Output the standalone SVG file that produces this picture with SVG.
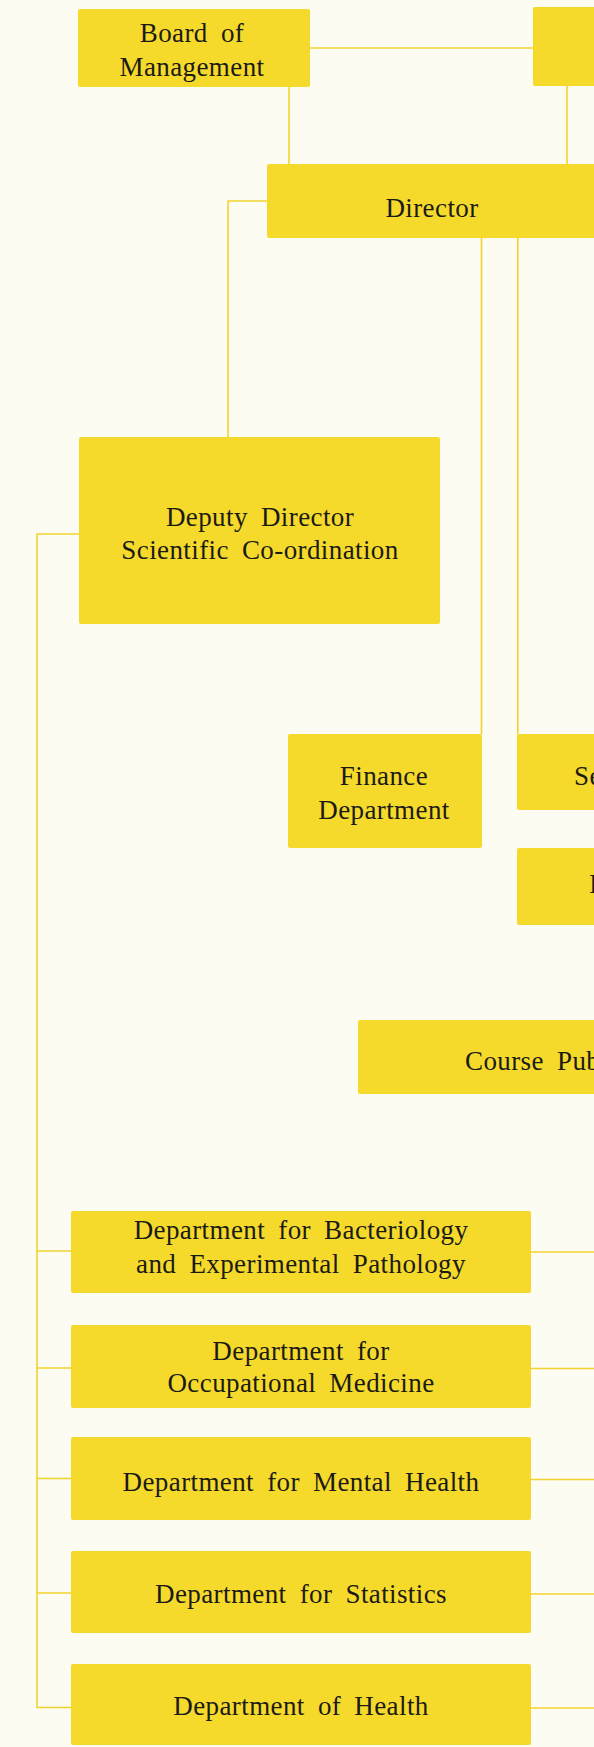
<svg xmlns="http://www.w3.org/2000/svg" width="594" height="1747" viewBox="0 0 594 1747">
<style>
.box{fill:#F5DA2C;}
.lbl{font-family:"Liberation Serif","Times New Roman",serif;font-size:27px;fill:#1c1a14;text-anchor:middle;word-spacing:6px;letter-spacing:0.4px;}
.lbs{font-family:"Liberation Serif","Times New Roman",serif;font-size:27px;fill:#1c1a14;text-anchor:start;word-spacing:6px;letter-spacing:0.4px;}
.conn{stroke:#F0D32E;stroke-width:1.6;fill:none;}
</style>
<rect width="594" height="1747" fill="#FDFCF2"/>
<g id="connectors" class="conn">
<path d="M310 48H533"/>
<path d="M289 87V164"/>
<path d="M567 86V164"/>
<path d="M267 201H228V437"/>
<path d="M481.5 238V734"/>
<path d="M517.8 238V734"/>
<path d="M79 534H37V1707.5H71"/>
<path d="M37 1251H71"/>
<path d="M37 1368H71"/>
<path d="M37 1478.5H71"/>
<path d="M37 1593H71"/>
<path d="M531 1252H594"/>
<path d="M531 1368.5H594"/>
<path d="M531 1479.5H594"/>
<path d="M531 1594H594"/>
<path d="M531 1708H594"/>
</g>
<g id="board"><rect class="box" x="78" y="9" width="232" height="78" rx="2"/><text class="lbl" x="192" y="42">Board of</text><text class="lbl" x="192" y="76">Management</text></g>
<g id="topright"><rect class="box" x="533" y="7" width="70" height="79" rx="2"/></g>
<g id="director"><rect class="box" x="267" y="164" width="340" height="74" rx="2"/><text class="lbl" x="432" y="217">Director</text></g>
<g id="deputy"><rect class="box" x="79" y="437" width="361" height="187" rx="2"/><text class="lbl" x="260" y="526">Deputy Director</text><text class="lbl" x="260" y="559">Scientific Co-ordination</text></g>
<g id="finance"><rect class="box" x="288" y="734" width="194" height="114" rx="2"/><text class="lbl" x="384" y="785">Finance</text><text class="lbl" x="384" y="819">Department</text></g>
<g id="se"><rect class="box" x="517" y="734" width="90" height="76" rx="2"/><text class="lbs" x="574" y="785">Se</text></g>
<g id="i-box"><rect class="box" x="517" y="848" width="90" height="77" rx="2"/><text class="lbs" x="589" y="893">I</text></g>
<g id="course"><rect class="box" x="358" y="1020" width="250" height="74" rx="2"/><text class="lbs" x="465" y="1070">Course Pub</text></g>
<g id="bact"><rect class="box" x="71" y="1211" width="460" height="82" rx="2"/><text class="lbl" x="301" y="1239">Department for Bacteriology</text><text class="lbl" x="301" y="1273">and Experimental Pathology</text></g>
<g id="occ"><rect class="box" x="71" y="1325" width="460" height="83" rx="2"/><text class="lbl" x="301" y="1360">Department for</text><text class="lbl" x="301" y="1392">Occupational Medicine</text></g>
<g id="mental"><rect class="box" x="71" y="1437" width="460" height="83" rx="2"/><text class="lbl" x="301" y="1491">Department for Mental Health</text></g>
<g id="stat"><rect class="box" x="71" y="1551" width="460" height="82" rx="2"/><text class="lbl" x="301" y="1603">Department for Statistics</text></g>
<g id="health"><rect class="box" x="71" y="1664" width="460" height="81" rx="2"/><text class="lbl" x="301" y="1715">Department of Health</text></g>
</svg>
